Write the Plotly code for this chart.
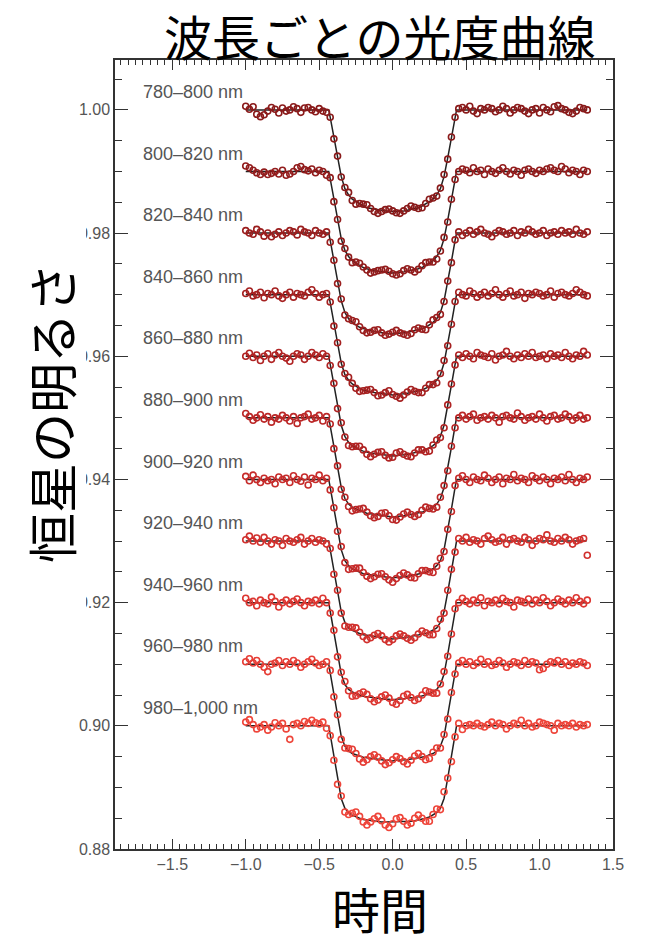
import numpy as np
import plotly.graph_objects as go

# ---------------- data ----------------
CHANNELS = ["780–800 nm", "800–820 nm", "820–840 nm", "840–860 nm", "860–880 nm",
            "880–900 nm", "900–920 nm", "920–940 nm", "940–960 nm", "960–980 nm",
            "980–1,000 nm"]
BASELINES = [1.00, 0.99, 0.98, 0.97, 0.96, 0.95, 0.94, 0.93, 0.92, 0.91, 0.90]
COLORS = ["#8a1a1a", "#921c1c", "#9b1e1e", "#a52020", "#b02323", "#bb2727",
          "#c62b2a", "#d1302d", "#dc3631", "#e63d35", "#ee453a"]

# observation times (94 samples, 0.025 apart, from -1.0)
TIME = np.round(np.arange(94) * 0.025 - 1.0, 3)

# measured flux relative to each channel's baseline, in units of 1e-4
FLUX_780 = [6, 1, 5, -7, -11, -8, -2, 4, 1, -5, 3, -2, 0, 5, 2, -4, 3, 4, 0, -3, 2, -2, -4,
            -12, -47, -75, -109, -126, -134, -147, -153, -152, -153, -154, -160, -165, -168, -165, -162, -161, -164,
            -167, -168, -164, -160, -156, -158, -160, -159, -152, -145, -143, -140, -127, -105, -80, -44, -12,
            2, 4, 0, 6, -2, -6, 2, 0, 4, 2, -3, 0, 6, 2, -5, 0, 4, 2, -2, -6, 0, 2, -5, 4, 0, -3, 5, 7, 2, 0, -4, -6, -2, 4, 2, 0]
FLUX_800 = [9, 6, 2, -2, -5, -1, -5, -3, 0, -4, 2, -6, -4, 0, 6, 8, 3, 1, 4, -2, 2, 0, -6,
            -10, -49, -78, -113, -125, -139, -148, -147, -149, -155, -160, -165, -163, -161, -160, -159, -162, -166,
            -168, -166, -161, -158, -160, -163, -159, -153, -148, -147, -147, -142, -129, -107, -82, -45, -13,
            0, 4, 2, -2, 6, 0, 2, -5, 4, 0, -3, 2, 6, 0, -4, 2, 0, -6, 2, 4, 0, -3, 2, 0, 4, 6, 2, 0, 8, 4, -2, 2, 0, -5, 2, 0]
FLUX_820 = [4, 0, -2, 6, 2, -5, 0, -6, -2, 2, -4, 0, 4, 2, -3, 6, 2, 0, -4, 4, 0, -2, 2,
            -15, -44, -82, -107, -133, -139, -142, -144, -152, -158, -162, -161, -158, -157, -162, -166, -164, -161,
            -158, -162, -164, -166, -163, -157, -154, -156, -157, -149, -141, -137, -132, -111, -78, -48, -11,
            2, -4, 0, 4, -2, 2, 6, 0, -2, -6, 0, 4, 2, -2, 0, 4, -4, 2, 0, 6, 2, -2, 0, 4, -4, 0, 2, -2, 4, 0, 2, -2, 6, 0, -2, 2]
FLUX_840 = [2, 6, -2, 0, 4, -5, 2, 0, 6, -2, -6, 0, 4, -4, 2, 0, -2, 4, 8, 2, -4, 0, 2,
            -12, -51, -78, -113, -128, -134, -144, -152, -157, -156, -155, -154, -159, -164, -163, -159, -156, -162,
            -165, -168, -163, -158, -154, -157, -159, -159, -152, -146, -146, -143, -128, -107, -83, -48, -11,
            4, 0, -2, 6, 2, -4, 0, 4, -2, 2, 8, 0, -4, 2, 6, -2, 0, 4, -6, 2, 0, 4, 2, -2, 0, 6, -4, 2, 4, 0, -2, 2, 8, 4, 0, -2]
FLUX_860 = [0, 5, -2, 2, -7, 0, 4, -5, 2, 6, 0, -3, -8, 0, 4, 2, -5, 0, 6, 2, -2, 4, 0,
            -15, -44, -85, -108, -131, -145, -147, -146, -146, -152, -159, -163, -159, -156, -155, -161, -165, -164,
            -157, -155, -159, -162, -163, -157, -152, -152, -155, -154, -144, -136, -132, -116, -79, -45, -14,
            2, -2, 4, 0, -4, 6, 2, 0, -2, 4, -6, 0, 2, 8, 0, -4, 2, -2, 4, 0, 6, -2, 0, 2, -4, 4, 0, 2, -2, 6, 0, -4, 2, 0, 8, 2]
FLUX_880 = [7, 2, -4, 0, 5, -2, 2, -7, 0, -2, 4, 0, -5, 2, -9, 0, 2, 6, -2, 0, 4, -5, 2,
            -10, -50, -78, -116, -129, -144, -151, -149, -148, -147, -153, -159, -162, -160, -155, -154, -159, -165,
            -166, -161, -156, -153, -157, -160, -157, -150, -145, -147, -148, -145, -129, -110, -86, -46, -16,
            0, 4, -2, 2, 6, -4, 0, 2, -2, 4, 0, -7, 2, 4, 0, -2, 8, 2, -4, 0, 2, -2, 6, 0, -5, 2, 4, -2, 0, 6, 2, -4, 0, 4, -2, 0]
FLUX_900 = [5, -2, 7, 0, -5, 2, -2, 0, -7, 4, 0, 2, -5, 6, 0, -3, 4, -9, 2, 0, 7, -2, 2,
            -17, -46, -84, -109, -135, -146, -145, -144, -144, -151, -157, -161, -158, -154, -153, -158, -163, -167,
            -161, -156, -152, -155, -159, -160, -153, -148, -148, -150, -151, -141, -128, -117, -81, -52, -10,
            2, 6, 0, -5, 4, 0, -2, 7, 2, -5, 0, 4, -7, 2, 0, 8, -2, 2, 0, -5, 6, 2, -2, 4, 0, -7, 2, 0, 4, -2, 8, 0, -5, 2, 0, 4]
FLUX_920 = [2, 8, 0, 5, -2, 6, 0, -5, 2, 0, -7, 4, 0, -2, 2, 6, -5, 0, 4, -2, 2, 0, -5,
            -12, -54, -80, -117, -138, -140, -140, -141, -148, -155, -160, -157, -153, -150, -154, -160, -164, -160,
            -154, -151, -154, -158, -161, -157, -151, -146, -149, -152, -152, -142, -127, -117, -80, -46, -18,
            4, 0, 6, -2, 2, 0, -5, 4, 8, 2, -2, 0, 6, -5, 2, 4, 0, -2, 6, 2, -7, 0, 4, 2, 10, 0, -2, 4, 0, 6, 2, -5, 0, 2, 4, -23]
FLUX_940 = [7, 0, 2, -5, 4, 0, -2, 9, 2, -7, 0, 4, -2, 2, 6, 0, -5, 2, 0, 4, -2, 7, 0,
            -17, -45, -88, -113, -128, -143, -152, -151, -148, -145, -149, -156, -161, -158, -153, -150, -155, -162,
            -165, -159, -152, -149, -154, -159, -156, -150, -143, -145, -147, -147, -132, -112, -87, -51, -10,
            0, 7, 2, -2, 4, 0, 8, -5, 2, 0, 4, -2, 7, 2, 0, -7, 4, 2, 0, 6, -2, 4, 0, 8, 2, -5, 0, 6, 2, -2, 4, 0, 8, 2, -2, 4]
FLUX_960 = [4, 9, 2, 6, 0, -5, -12, 0, 2, 6, -2, 4, 0, 6, 2, -5, 0, 4, 8, 2, -2, 0, 4,
            -10, -53, -82, -122, -136, -137, -138, -145, -154, -159, -155, -150, -147, -151, -157, -163, -160, -155,
            -150, -153, -158, -162, -156, -149, -145, -150, -155, -153, -143, -136, -136, -114, -89, -46, -16,
            2, 6, 0, 4, -2, 2, 8, 0, 4, -2, 0, 6, 2, -5, 0, 4, 2, -2, 6, 0, 4, 2, -9, -7, 0, 4, 2, 6, 0, 4, -2, 2, 0, 4, 2, -2]
FLUX_980 = [6, 10, 2, -5, -2, 2, -7, -2, 5, 0, 4, -5, -22, 2, 4, 0, 7, 4, 9, 5, 3, 6, -4,
            -16, -56, -95, -114, -140, -144, -142, -140, -147, -156, -161, -156, -151, -147, -154, -161, -165, -159,
            -151, -149, -155, -161, -158, -150, -145, -150, -155, -155, -144, -135, -136, -107, -85, -58, -18,
            4, -6, 0, 2, 0, 4, 0, -2, 2, 6, 0, 4, 2, -5, 0, 4, 2, 9, 0, 4, -2, 0, 6, 4, 2, 0, -7, 4, 0, 2, 0, 4, -2, 2, 0, 2]
FLUX = [FLUX_780, FLUX_800, FLUX_820, FLUX_840, FLUX_860, FLUX_880,
        FLUX_900, FLUX_920, FLUX_940, FLUX_960, FLUX_980]

# fitted model: depth (1e-4) at |time| knots, symmetric about 0
MODEL_KNOT_X = [0.435, 0.425, 0.40, 0.375, 0.35, 0.325, 0.30, 0.275, 0.25, 0.225,
                0.20, 0.175, 0.15, 0.125, 0.10, 0.075, 0.05, 0.025, 0.0]
MODEL_DEPTH = [
    [0, 12, 45, 78, 108, 128, 138, 145, 149, 153, 156, 159, 160, 162, 163, 164, 164, 165, 165],
    [0, 12, 46, 79, 109, 128, 138, 145, 149, 153, 156, 158, 160, 161, 162, 163, 164, 164, 165],
    [0, 12, 46, 80, 110, 129, 139, 145, 149, 153, 155, 157, 159, 160, 161, 162, 163, 163, 164],
    [0, 13, 47, 81, 111, 130, 139, 145, 149, 152, 155, 157, 158, 159, 160, 161, 162, 162, 163],
    [0, 13, 47, 82, 112, 130, 140, 145, 149, 152, 154, 156, 157, 158, 159, 160, 161, 161, 162],
    [0, 13, 48, 82, 113, 131, 140, 145, 148, 151, 153, 155, 156, 157, 158, 159, 160, 160, 161],
    [0, 13, 48, 83, 114, 132, 140, 145, 148, 151, 153, 154, 155, 156, 157, 158, 159, 159, 160],
    [0, 14, 49, 83, 115, 132, 141, 145, 148, 150, 152, 153, 154, 155, 156, 157, 158, 158, 159],
    [0, 14, 49, 84, 116, 133, 141, 145, 148, 150, 152, 153, 154, 155, 155, 156, 157, 157, 158],
    [0, 14, 50, 84, 117, 133, 141, 145, 147, 150, 151, 152, 153, 154, 155, 155, 156, 156, 157],
    [0, 14, 50, 85, 118, 134, 141, 145, 148, 150, 152, 153, 154, 155, 155, 156, 156, 156, 156],
]
MODEL_START, MODEL_END = -1.0, 1.32

X_TICKS = [-1.5, -1.0, -0.5, 0.0, 0.5, 1.0, 1.5]
Y_TICKS = [0.88, 0.90, 0.92, 0.94, 0.96, 0.98, 1.00]

TITLE = "波長ごとの光度曲線"
X_TITLE = "時間"
Y_TITLE = "恒星の明るさ"

# ---------------- figure ----------------
W, H = 645, 944
ML, MR, MT, MB = 115, 32, 60, 95
PW, PH = W - ML - MR, H - MT - MB

JP = "Noto Sans CJK JP"
SANS = "Liberation Sans, Arial, sans-serif"

fig = go.Figure()

for name, base, col, flux, depth in zip(CHANNELS, BASELINES, COLORS, FLUX, MODEL_DEPTH):
    assert len(flux) == len(TIME), (name, len(flux))
    kx = [MODEL_START] + [-k for k in MODEL_KNOT_X] + [k for k in MODEL_KNOT_X[-2::-1]] + [MODEL_END]
    kd = [0] + depth + depth[-2::-1] + [0]
    ky = [base - d * 1e-4 for d in kd]
    fig.add_trace(go.Scatter(x=kx, y=ky, mode="lines",
                             line=dict(color="#222222", width=1.5),
                             showlegend=False, hoverinfo="skip"))
    fig.add_trace(go.Scatter(x=TIME, y=[base + v * 1e-4 for v in flux], mode="markers",
                             marker=dict(symbol="circle-open", size=6, color=col,
                                         line=dict(color=col, width=1.6)),
                             name=name, showlegend=False))
    fig.add_annotation(x=-1.71, y=base + 0.0029, xref="x", yref="y", text=name,
                       showarrow=False, xanchor="left", yanchor="middle",
                       font=dict(family=SANS, size=18, color="#555555"))

axis_common = dict(showgrid=False, zeroline=False, showline=True, linecolor="#333333",
                   linewidth=1.5, mirror="ticks", ticks="inside", tickcolor="#333333",
                   tickwidth=1.2, tickfont=dict(family=SANS, size=16, color="#555555"))

fig.update_xaxes(range=[-1.89, 1.5], tickmode="array", tickvals=X_TICKS,
                 ticktext=[f"{v:.1f}".replace("-", "−") for v in X_TICKS],
                 ticklen=10,
                 minor=dict(tickmode="linear", tick0=0, dtick=0.05, ticks="inside",
                            ticklen=5, tickcolor="#333333", tickwidth=1.1, showgrid=False),
                 **axis_common)
fig.update_yaxes(range=[0.88, 1.0081], tickmode="array", tickvals=Y_TICKS,
                 ticktext=[f"{v:.2f}" for v in Y_TICKS],
                 ticklen=13,
                 minor=dict(tickmode="linear", tick0=0.88, dtick=0.005, ticks="inside",
                            ticklen=7, tickcolor="#333333", tickwidth=1.1, showgrid=False),
                 **axis_common)

# white block behind the vertical axis title (covers part of the tick labels)
fig.add_shape(type="rect", xref="paper", yref="y",
              x0=(12 - ML) / PW, x1=(86 - ML) / PW, y0=0.9172, y1=0.9818,
              fillcolor="white", line=dict(width=0), layer="above")

fig.add_annotation(text=TITLE, xref="paper", yref="paper",
                   x=(380 - ML) / PW, y=1 + (MT - 35) / PH, showarrow=False,
                   xanchor="center", yanchor="middle",
                   font=dict(family=JP, size=48, color="black"))
fig.add_annotation(text=X_TITLE, xref="paper", yref="paper",
                   x=(380 - ML) / PW, y=-(908 - (MT + PH)) / PH, showarrow=False,
                   xanchor="center", yanchor="middle",
                   font=dict(family=JP, size=48, color="black"))
fig.add_annotation(text=Y_TITLE, xref="paper", yref="paper",
                   x=(50 - ML) / PW, y=(MT + PH - 413) / PH, showarrow=False,
                   textangle=-90, xanchor="center", yanchor="middle",
                   font=dict(family=JP, size=50, color="black"))

fig.update_layout(width=W, height=H, margin=dict(l=ML, r=MR, t=MT, b=MB),
                  paper_bgcolor="white", plot_bgcolor="white", showlegend=False)

fig.write_html("out.html")
